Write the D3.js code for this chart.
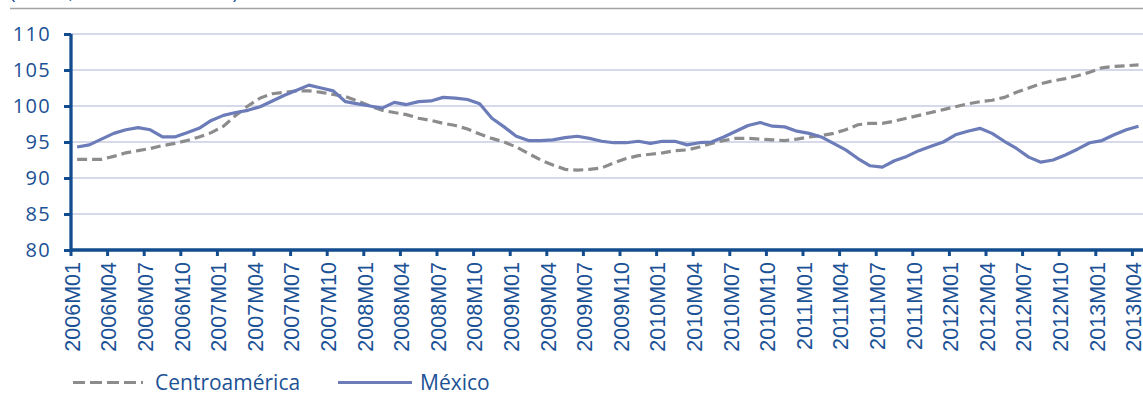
<!DOCTYPE html>
<html>
<head>
<meta charset="utf-8">
<script src="https://cdn.jsdelivr.net/npm/d3@7"></script>
<style>
  html, body { margin: 0; padding: 0; background: #fff; }
  svg { display: block; }
</style>
</head>
<body>
<svg id="chart" width="1143" height="407"></svg>
<script>
// monthly series, 2006M01 .. 2013M04
var startYear = 2006;
var nMonths = 88;

var centroamerica = [
  92.6, 92.6, 92.6, 93.0, 93.5, 93.8, 94.1, 94.5, 94.8, 95.2, 95.7, 96.3,
  97.2, 98.7, 100.0, 101.1, 101.7, 101.9, 102.1, 102.1, 101.9, 101.6, 101.3, 100.7,
  100.0, 99.4, 99.1, 98.8, 98.3, 98.0, 97.6, 97.3, 96.8, 96.1, 95.5, 95.0,
  94.3, 93.4, 92.5, 91.8, 91.2, 91.1, 91.2, 91.4, 92.1, 92.7, 93.1, 93.3,
  93.5, 93.8, 93.9, 94.3, 94.8, 95.2, 95.5, 95.5, 95.4, 95.3, 95.2, 95.4,
  95.7, 95.9, 96.2, 96.7, 97.4, 97.6, 97.6, 97.9, 98.3, 98.7, 99.1, 99.5,
  99.9, 100.3, 100.6, 100.8, 101.2, 101.9, 102.5, 103.1, 103.5, 103.8, 104.2, 104.7,
  105.3, 105.5, 105.6, 105.7
];

var mexico = [
  94.3, 94.6, 95.4, 96.2, 96.7, 97.0, 96.7, 95.7, 95.7, 96.3, 96.9, 98.0,
  98.7, 99.1, 99.4, 99.9, 100.7, 101.5, 102.2, 102.9, 102.5, 102.1, 100.6, 100.3,
  100.0, 99.7, 100.5, 100.2, 100.6, 100.7, 101.2, 101.1, 100.9, 100.3, 98.3, 97.1,
  95.8, 95.2, 95.2, 95.3, 95.6, 95.8, 95.5, 95.1, 94.9, 94.9, 95.1, 94.8,
  95.1, 95.1, 94.6, 94.9, 95.0, 95.7, 96.5, 97.3, 97.7, 97.2, 97.1, 96.5,
  96.2, 95.7, 94.8, 93.9, 92.7, 91.7, 91.5, 92.4, 93.0, 93.8, 94.4, 95.0,
  96.0, 96.5, 96.9, 96.2, 95.1, 94.1, 92.9, 92.2, 92.5, 93.2, 94.0, 94.9,
  95.2, 96.0, 96.7, 97.2
];

var yTicks = [80, 85, 90, 95, 100, 105, 110];

var seriesNames = ['Centroamérica', 'México'];

var months = [];
for (var i = 0; i < nMonths; i++) {
  var yr = startYear + Math.floor(i / 12);
  var m = (i % 12) + 1;
  months.push(yr + 'M' + (m < 10 ? '0' + m : m));
}
// a label every third month
var tickLabels = months.filter(function(d, i) { return i % 3 === 0; });

var textColor = '#1b5195';
var axisColor = '#124c8e';
var gridColor = '#c9cde3';
var grayColor = '#8c8c8c';
var blueColor = '#6b7cb8';

var svg = d3.select('#chart');

var plotLeft = 71, plotBottom = 250, plotTop = 34;
var bw = 12.2;

var xScale = d3.scaleBand()
  .domain(months)
  .range([plotLeft, plotLeft + bw * nMonths])
  .padding(0);

var yScale = d3.scaleLinear()
  .domain([80, 110])
  .range([plotBottom, plotTop]);

// title, cut off by the top edge, and the rule under it
svg.append('text')
  .attr('x', 10)
  .attr('y', -1.5)
  .attr('fill', textColor)
  .style('font-family', '"Open Sans", sans-serif')
  .style('font-size', '19px')
  .text('(Índice, enero 2006 = 100)');

svg.append('line')
  .attr('x1', 10).attr('x2', 1143)
  .attr('y1', 8.5).attr('y2', 8.5)
  .attr('stroke', '#a3a3a3')
  .attr('stroke-width', 1.5);

// grid
svg.append('g')
  .selectAll('line.grid')
  .data(yTicks.slice(1))
  .enter()
    .append('line')
    .classed('grid', true)
    .attr('x1', plotLeft)
    .attr('x2', 1143)
    .attr('y1', function(d) { return yScale(d); })
    .attr('y2', function(d) { return yScale(d); })
    .attr('stroke', gridColor)
    .attr('stroke-width', 1.5);

// y axis
var yAxis = svg.append('g')
  .attr('transform', 'translate(' + plotLeft + ',0)')
  .call(d3.axisLeft(yScale).tickValues(yTicks).tickSize(7).tickPadding(13));

yAxis.select('.domain').attr('stroke', axisColor).attr('stroke-width', 3.3)
  .attr('d', 'M0,' + plotTop + 'V' + plotBottom);
yAxis.selectAll('.tick line').attr('stroke', axisColor).attr('stroke-width', 3);
yAxis.selectAll('.tick text')
  .attr('fill', textColor)
  .style('font-family', '"Open Sans", sans-serif')
  .style('font-size', '20px')
  .style('letter-spacing', '1.3px');

// x axis, ticks on category boundaries
var xAxis = svg.append('g')
  .attr('transform', 'translate(0,' + plotBottom + ')');

xAxis.append('line')
  .attr('x1', plotLeft - 1).attr('x2', 1143)
  .attr('y1', 0).attr('y2', 0)
  .attr('stroke', axisColor)
  .attr('stroke-width', 3.3);

xAxis.selectAll('line.xtick')
  .data(tickLabels)
  .enter()
    .append('line')
    .classed('xtick', true)
    .attr('x1', function(d) { return xScale(d); })
    .attr('x2', function(d) { return xScale(d); })
    .attr('y1', 0)
    .attr('y2', 6)
    .attr('stroke', axisColor)
    .attr('stroke-width', 3);

xAxis.selectAll('text.xlab')
  .data(tickLabels)
  .enter()
    .append('text')
    .classed('xlab', true)
    .attr('transform', function(d) { return 'translate(' + (xScale(d) + 1) + ',12) rotate(-90)'; })
    .attr('text-anchor', 'end')
    .attr('dy', '0.36em')
    .attr('fill', textColor)
    .style('font-family', '"Liberation Sans", Arial, sans-serif')
    .style('font-size', '21.5px')
    .text(function(d) { return d; });

// lines
var line = d3.line()
  .x(function(d, i) { return xScale(months[i]) + bw / 2; })
  .y(function(d) { return yScale(d); });

svg.append('path')
  .datum(centroamerica)
  .attr('d', line)
  .attr('fill', 'none')
  .attr('stroke', grayColor)
  .attr('stroke-width', 3.2)
  .attr('stroke-dasharray', '10,5');

svg.append('path')
  .datum(mexico)
  .attr('d', line)
  .attr('fill', 'none')
  .attr('stroke', blueColor)
  .attr('stroke-width', 3.2)
  .attr('stroke-linejoin', 'round');

// legend
var legend = [
  {name: seriesNames[0], x1: 73, x2: 143, tx: 155, color: grayColor, dash: '12,5'},
  {name: seriesNames[1], x1: 338, x2: 412, tx: 420, color: blueColor, dash: null}
];

var lg = svg.append('g').selectAll('g.leg')
  .data(legend)
  .enter()
    .append('g')
    .classed('leg', true);

lg.append('line')
  .attr('x1', function(d) { return d.x1; })
  .attr('x2', function(d) { return d.x2; })
  .attr('y1', 382.5).attr('y2', 382.5)
  .attr('stroke', function(d) { return d.color; })
  .attr('stroke-width', 3.2)
  .attr('stroke-dasharray', function(d) { return d.dash; });

lg.append('text')
  .attr('x', function(d) { return d.tx; })
  .attr('y', 383)
  .attr('dy', '0.35em')
  .attr('fill', textColor)
  .style('font-family', '"Open Sans", sans-serif')
  .style('font-size', '21px')
  .text(function(d) { return d.name; });
</script>
</body>
</html>
